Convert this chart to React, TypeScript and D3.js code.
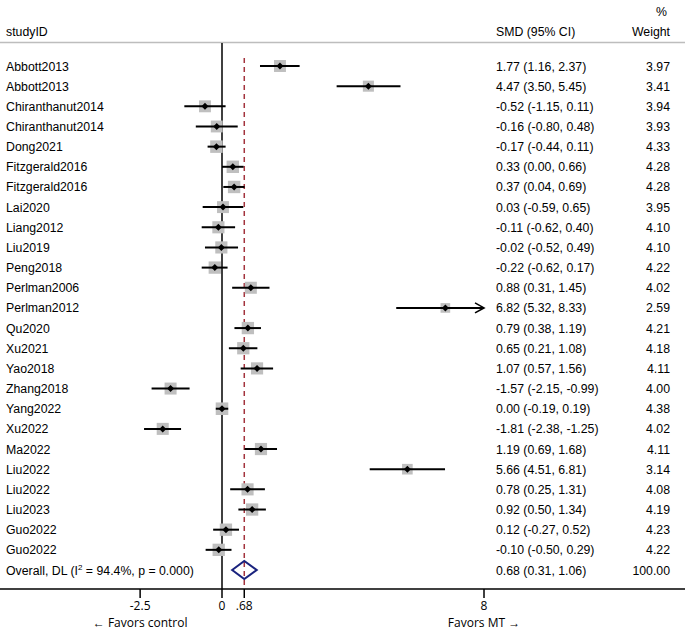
import React from "react";
import * as d3 from "d3";

const studies = ["Abbott2013","Abbott2013","Chiranthanut2014","Chiranthanut2014","Dong2021","Fitzgerald2016","Fitzgerald2016","Lai2020","Liang2012","Liu2019","Peng2018","Perlman2006","Perlman2012","Qu2020","Xu2021","Yao2018","Zhang2018","Yang2022","Xu2022","Ma2022","Liu2022","Liu2022","Liu2023","Guo2022","Guo2022"];
const smd = [1.77,4.47,-0.52,-0.16,-0.17,0.33,0.37,0.03,-0.11,-0.02,-0.22,0.88,6.82,0.79,0.65,1.07,-1.57,0.00,-1.81,1.19,5.66,0.78,0.92,0.12,-0.10];
const lower = [1.16,3.50,-1.15,-0.80,-0.44,0.00,0.04,-0.59,-0.62,-0.52,-0.62,0.31,5.32,0.38,0.21,0.57,-2.15,-0.19,-2.38,0.69,4.51,0.25,0.50,-0.27,-0.50];
const upper = [2.37,5.45,0.11,0.48,0.11,0.66,0.69,0.65,0.40,0.49,0.17,1.45,8.33,1.19,1.08,1.56,-0.99,0.19,-1.25,1.68,6.81,1.31,1.34,0.52,0.29];
const weights = ["3.97","3.41","3.94","3.93","4.33","4.28","4.28","3.95","4.10","4.10","4.22","4.02","2.59","4.21","4.18","4.11","4.00","4.38","4.02","4.11","3.14","4.08","4.19","4.23","4.22"];
const overall = { est: 0.68, lo: 0.31, hi: 1.06, weight: "100.00" };
const overallLabel = "0.68 (0.31, 1.06)";
const tickValues = [-2.5, 0, 0.68, 8];
const tickLabels = ["-2.5", "0", ".68", "8"];

const W = 685, H = 629;
const fmt = (v: number) => v.toFixed(2);

export default function App() {
  const x = d3.scaleLinear().domain([0, 8]).range([222, 484]);
  const y = d3.scaleLinear().domain([0, 25]).range([66, 570]);
  const xMax = 8;
  const font = "'Liberation Sans', Arial, sans-serif";
  const axFont = "'Open Sans', sans-serif";
  const fs = 12.3;
  const axisY = 589;
  return (
    <svg width={W} height={H} style={{ position: "absolute", left: 0, top: 0, background: "#fff" }}>
      <text x={667} y={16} textAnchor="end" fontFamily={font} fontSize={fs}>%</text>
      <text x={6} y={36} fontFamily={font} fontSize={fs}>studyID</text>
      <text x={496} y={36} fontFamily={font} fontSize={fs}>SMD (95% CI)</text>
      <text x={670} y={36} textAnchor="end" fontFamily={font} fontSize={fs}>Weight</text>
      <line x1={0} x2={W} y1={42.5} y2={42.5} stroke="#bdbdbd" strokeWidth={1.5} />
      <line x1={x(0)} x2={x(0)} y1={43} y2={axisY} stroke="#000" strokeWidth={1.5} />
      <line x1={x(overall.est)} x2={x(overall.est)} y1={58} y2={axisY} stroke="#a3333d" strokeWidth={1.5} strokeDasharray="5,4" />
      {studies.map((s, i) => {
        const yy = y(i);
        const side = 6 * Math.sqrt(parseFloat(weights[i]));
        const hi = Math.min(upper[i], xMax);
        const cx = x(smd[i]);
        return (
          <g key={i}>
            <text x={6} y={yy + 4.5} fontFamily={font} fontSize={fs}>{s}</text>
            <rect x={cx - side / 2} y={yy - side / 2} width={side} height={side} fill="#bfbfbf" />
            <line x1={x(lower[i])} x2={x(hi)} y1={yy} y2={yy} stroke="#000" strokeWidth={2} />
            {upper[i] > xMax && (
              <path d={`M${x(hi) - 9},${yy - 5} L${x(hi)},${yy} L${x(hi) - 9},${yy + 5}`} fill="none" stroke="#000" strokeWidth={1.6} />
            )}
            <path d={`M${cx},${yy - 3.5} L${cx + 3.5},${yy} L${cx},${yy + 3.5} L${cx - 3.5},${yy} Z`} fill="#000" />
            <text x={496} y={yy + 4.5} fontFamily={font} fontSize={fs}>{`${fmt(smd[i])} (${fmt(lower[i])}, ${fmt(upper[i])})`}</text>
            <text x={670} y={yy + 4.5} textAnchor="end" fontFamily={font} fontSize={fs}>{weights[i]}</text>
          </g>
        );
      })}
      <text x={6} y={y(25) + 4.5} fontFamily={font} fontSize={fs}>
        Overall, DL (I<tspan dy={-5} fontSize={8}>2</tspan><tspan dy={5}> = 94.4%, p = 0.000)</tspan>
      </text>
      <path d={`M${x(overall.lo)},${y(25)} L${x(overall.est)},${y(25) - 9} L${x(overall.hi)},${y(25)} L${x(overall.est)},${y(25) + 9} Z`} fill="none" stroke="#1a237e" strokeWidth={2} />
      <text x={496} y={y(25) + 4.5} fontFamily={font} fontSize={fs}>{overallLabel}</text>
      <text x={670} y={y(25) + 4.5} textAnchor="end" fontFamily={font} fontSize={fs}>{overall.weight}</text>
      <line x1={0} x2={W} y1={axisY} y2={axisY} stroke="#000" strokeWidth={1.5} />
      {tickValues.map((t, i) => (
        <g key={t}>
          <line x1={x(t)} x2={x(t)} y1={axisY} y2={axisY + 9} stroke="#000" strokeWidth={1.5} />
          <text x={x(t)} y={610} textAnchor="middle" fontFamily={axFont} fontSize={12}>{tickLabels[i]}</text>
        </g>
      ))}
      <text x={x(-2.5)} y={626.5} textAnchor="middle" fontFamily={axFont} fontSize={12}>← Favors control</text>
      <text x={x(8)} y={626.5} textAnchor="middle" fontFamily={axFont} fontSize={12}>Favors MT →</text>
    </svg>
  );
}
